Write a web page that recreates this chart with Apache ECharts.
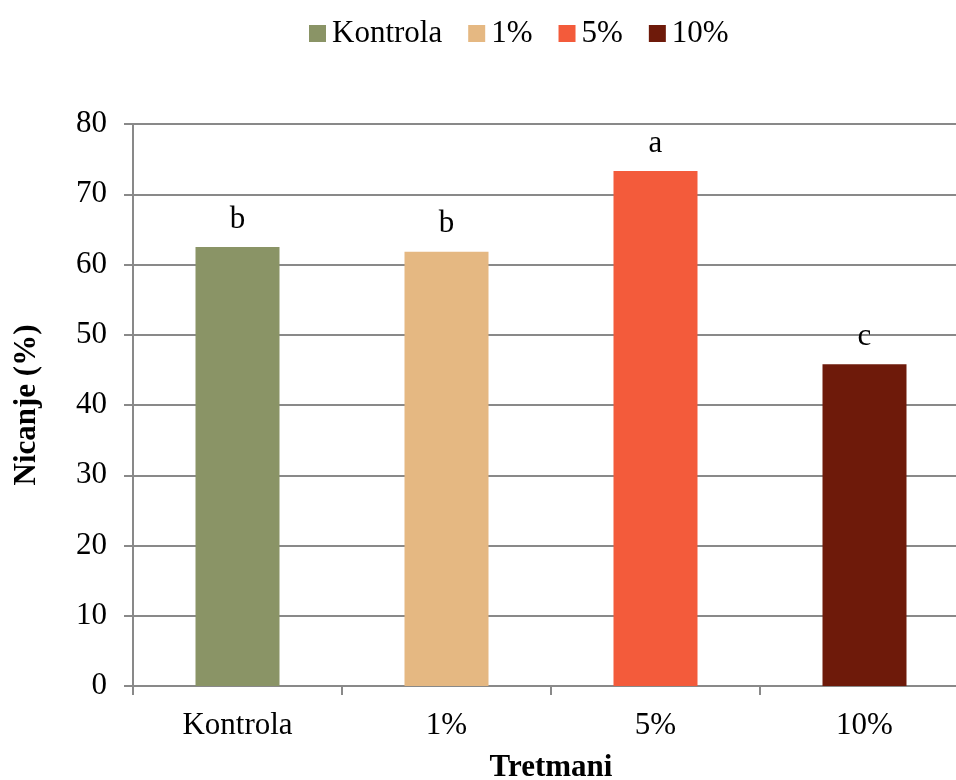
<!DOCTYPE html>
<html><head><meta charset="utf-8">
<script src="https://cdn.jsdelivr.net/npm/echarts@6/dist/echarts.min.js"></script>
<style>html,body{margin:0;padding:0;background:#fff}#c{width:956px;height:780px}</style>
</head><body><div id="c"></div>
<script>
var categories = ['Kontrola', '1%', '5%', '10%'];
var values = [62.5, 61.8, 73.3, 45.8];
var letters = ['b', 'b', 'a', 'c'];
var colors = ['#8A9466', '#E5B882', '#F35B3B', '#6E1A0A'];
var yTicks = [0, 10, 20, 30, 40, 50, 60, 70, 80];

var font = '"Liberation Serif", "Times New Roman", serif';
var chart = echarts.init(document.getElementById('c'));
var series = categories.map(function (name, i) {
  return {
    name: name,
    type: 'bar',
    barWidth: 84,
    barGap: '-100%',
    itemStyle: { color: colors[i] },
    data: categories.map(function (c, j) { return j === i ? values[i] : '-'; }),
    label: {
      show: true, position: 'top', distance: 12,
      formatter: function () { return letters[i]; },
      fontFamily: font, fontSize: 31, color: '#000'
    }
  };
});
chart.setOption({
  animation: false,
  textStyle: { fontFamily: font },
  legend: {
    top: 13, left: 304,
    itemWidth: 17, itemHeight: 17, itemGap: 26,
    icon: 'rect',
    textStyle: { fontFamily: font, fontSize: 31, color: '#000', padding: [0, 0, 0, 1] },
    data: categories
  },
  grid: { left: 133, top: 124, width: 836, height: 562, containLabel: false, outerBoundsMode: 'none' },
  xAxis: {
    type: 'category', data: categories,
    axisLine: { lineStyle: { color: '#898989', width: 2 } },
    axisTick: { show: true, length: 9, lineStyle: { color: '#898989', width: 2 } },
    axisLabel: { fontFamily: font, fontSize: 31, color: '#000', margin: 24 },
    name: 'Tretmani', nameLocation: 'middle', nameGap: 66,
    nameTextStyle: { fontFamily: font, fontSize: 31, fontWeight: 'bold', color: '#000' }
  },
  yAxis: {
    type: 'value', min: 0, max: 80, interval: 10,
    axisLine: { show: true, lineStyle: { color: '#898989', width: 2 } },
    axisTick: { show: true, length: 9, lineStyle: { color: '#898989', width: 2 } },
    splitLine: { lineStyle: { color: '#898989', width: 2 } },
    axisLabel: { fontFamily: font, fontSize: 31, color: '#000', margin: 26,
      formatter: function (v) { return yTicks.indexOf(v) >= 0 ? String(v) : ''; } },
    name: 'Nicanje (%)', nameLocation: 'middle', nameGap: 91, nameRotate: 90,
    nameTextStyle: { fontFamily: font, fontSize: 31, fontWeight: 'bold', color: '#000' }
  },
  series: series
});
</script></body></html>
